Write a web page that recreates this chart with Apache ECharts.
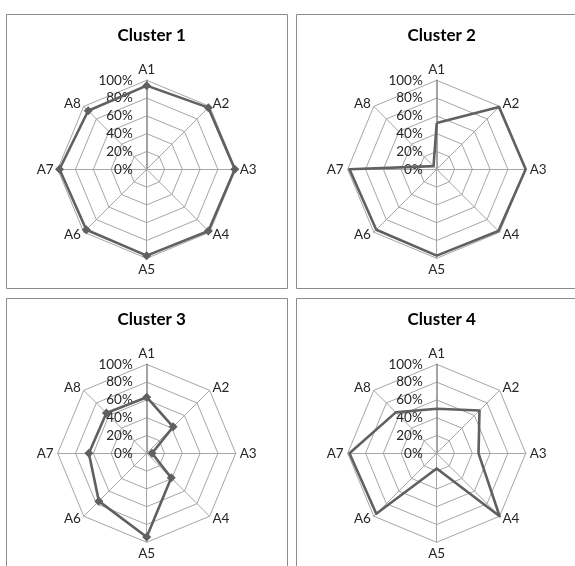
<!DOCTYPE html>
<html><head><meta charset="utf-8">
<script src="https://cdn.jsdelivr.net/npm/echarts@6/dist/echarts.min.js"></script>
<style>html,body{margin:0;padding:0;background:#fff}#c{width:575px;height:566px}</style>
</head><body><div id="c"></div><script>
const categories = ['A1','A2','A3','A4','A5','A6','A7','A8'];
const titles = ['Cluster 1','Cluster 2','Cluster 3','Cluster 4'];
const cluster1 = [94, 98, 99, 98, 97, 96, 98, 93];
const cluster2 = [52, 99, 100, 98, 97, 96, 98, 5];
const cluster3 = [63, 42, 6, 39, 94, 76, 65, 64];
const cluster4 = [50, 68, 47, 100, 17, 96, 98, 65];
const tickLabels = ['0%','20%','40%','60%','80%','100%'];

const clusters = [cluster1, cluster2, cluster3, cluster4];
const showMarkers = [true, false, true, false];
const centers = [[146.7,169.3],[436.7,169.3],[146.7,453.3],[436.7,453.3]];
const panels = [[6,14],[296,14],[6,298],[296,298]];
const FONT = 'Lato';
// ECharts places radar indicators counter-clockwise; reorder so A2 is on the right
const order = [0,7,6,5,4,3,2,1];

const chart = echarts.init(document.getElementById('c'), null, {renderer:'canvas'});
const radar = centers.map((c) => ({
  center: c, radius: 89, startAngle: 90, shape: 'polygon', splitNumber: 5,
  indicator: order.map(i => {
    const ind = {name: categories[i], min: 0, max: 100};
    if (i === 0) {
      ind.axisLabel = {show: true, color:'#262626', fontSize: 13.5, fontFamily: FONT, margin: 14,
        showMinLabel: true, showMaxLabel: true,
        formatter: v => tickLabels[Math.round(v/20)]};
      ind.axisLine = {lineStyle:{color:'#868686', width:1.5}};
    }
    return ind;
  }),
  axisName: {color:'#262626', fontSize: 13.5, fontFamily: FONT},
  nameGap: 4,
  splitLine: {lineStyle:{color:'#a6a6a6', width:1}},
  splitArea: {show:false},
  axisLine: {lineStyle:{color:'#a6a6a6', width:1}},
  axisTick: {show:false},
  axisLabel: {show:false}
}));

const series = clusters.map((vals, k) => ({
  type: 'radar', radarIndex: k, silent: true,
  symbol: showMarkers[k] ? 'diamond' : 'none', symbolSize: 9,
  lineStyle: {color:'#606060', width: 2.6},
  itemStyle: {color:'#606060'},
  data: [{value: order.map(i => vals[i])}]
}));

const title = titles.map((t, k) => ({
  text: t, left: centers[k][0], top: panels[k][1] + 7, textAlign: 'center',
  textStyle: {fontFamily: FONT, fontWeight: 'bold', fontSize: 17, color:'#000', lineHeight: 20}
}));

const graphic = panels.map(p => ({
  type: 'rect', shape: {x: p[0]+0.5, y: p[1]+0.5, width: 281, height: 274},
  style: {fill: 'none', stroke: '#8c8c8c', lineWidth: 1}, silent: true, z: -1
}));

chart.setOption({
  backgroundColor: '#fff', animation: false,
  title, radar, series, graphic
});
</script></body></html>
